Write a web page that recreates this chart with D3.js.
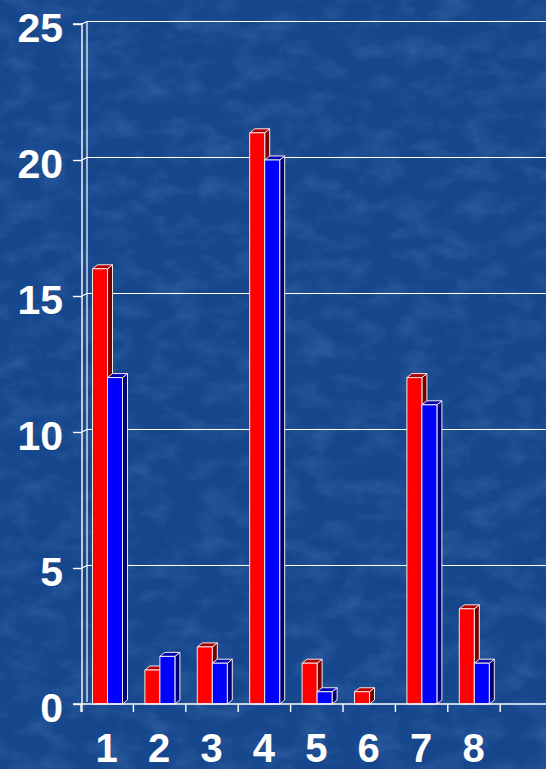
<!DOCTYPE html>
<html>
<head>
<meta charset="utf-8">
<script src="https://cdn.jsdelivr.net/npm/d3@7"></script>
<style>
  html, body { margin: 0; padding: 0; background: #184a90; }
  svg { display: block; }
</style>
</head>
<body>
<svg id="chart" width="546" height="769"></svg>
<script>
// ---- data ----
const categories = ["1", "2", "3", "4", "5", "6", "7", "8"];
const seriesNames = ["red", "blue"];
const redValues  = [16, 1.25, 2.1, 21, 1.5, 0.45, 12, 3.5];
const blueValues = [12, 1.75, 1.5, 20, 0.45, 0, 11, 1.5];
const yTicks = [0, 5, 10, 15, 20, 25];

// ---- layout ----
const W = 546, H = 769;
const svg = d3.select("#chart");
const depthX = 5, depthY = -4;

// background with texture
const defs = svg.append("defs");
const f = defs.append("filter").attr("id", "tex").attr("x", 0).attr("y", 0).attr("width", "100%").attr("height", "100%");
f.append("feTurbulence").attr("type", "fractalNoise").attr("baseFrequency", "0.03 0.05").attr("numOctaves", 4).attr("seed", 7).attr("result", "n");
f.append("feColorMatrix").attr("in", "n").attr("type", "matrix")
  .attr("values", "0 0 0 0 0.20  0 0 0 0 0.42  0 0 0 0 0.75  0 0 0 1.2 -0.5");
svg.append("rect").attr("width", W).attr("height", H).attr("fill", "#16468c");
svg.append("rect").attr("width", W).attr("height", H).attr("filter", "url(#tex)").attr("opacity", 0.35);

const x = d3.scaleBand().domain(categories).range([81, 500.2]).paddingInner(0).paddingOuter(0);
const bw = x.bandwidth();
const xs = d3.scaleBand().domain(seriesNames).range([11.5, 41.5]).padding(0);
const y = d3.scaleLinear().domain([0, 25]).range([704, 24]);

const white = "#ffffff";
const axisX = 82, wallX = axisX + depthX;

// back wall gridlines
const g = svg.append("g").attr("stroke", white).attr("stroke-width", 1.2).attr("fill", "none");
yTicks.filter(t => t > 0).forEach(t => {
  const yy = y(t);
  g.append("line").attr("x1", wallX).attr("x2", W).attr("y1", yy + depthY + 1.5).attr("y2", yy + depthY + 1.5);
  g.append("line").attr("x1", axisX).attr("x2", wallX).attr("y1", yy).attr("y2", yy + depthY + 1.5);
});
// wall vertical line
g.append("line").attr("x1", wallX).attr("x2", wallX).attr("y1", y(25) + depthY + 1.5).attr("y2", y(0) - 2);

// left axis with ticks
const yAxis = d3.axisLeft(y).tickValues(yTicks).tickSize(9).tickPadding(10).tickFormat(d3.format("d"));
const ya = svg.append("g").attr("transform", `translate(${axisX},0)`).call(yAxis);
ya.select(".domain").attr("stroke", white).attr("stroke-width", 1.4).attr("d", `M-9,${y(25)}H0V${y(0)+8}`);
ya.selectAll(".tick line").attr("stroke", white).attr("stroke-width", 1.4);
ya.selectAll(".tick text")
  .attr("fill", white).attr("font-family", "Liberation Sans, Arial, sans-serif")
  .attr("font-weight", "bold").attr("font-size", 41).attr("dy", "0.42em").attr("x", -19);

// bars (3D)
const series = [
  { name: "red", values: redValues, front: "#ff0000", side: "#7a0000", top: "#b00000" },
  { name: "blue", values: blueValues, front: "#0000ff", side: "#00007a", top: "#0000b0" }
];
const bars = svg.append("g");
categories.forEach((c, i) => {
  series.forEach(s => {
    const v = s.values[i];
    if (!(v > 0)) return;
    const x0 = x(c) + xs(s.name), x1 = x0 + xs.bandwidth();
    const y0 = y(v), yb = y(0);
    const gg = bars.append("g").attr("stroke", "#f4e8e8").attr("stroke-width", 1).attr("stroke-linejoin", "round");
    gg.append("path").attr("fill", s.side)
      .attr("d", `M${x1},${yb}L${x1 + depthX},${yb + depthY}L${x1 + depthX},${y0 + depthY}L${x1},${y0}Z`);
    gg.append("path").attr("fill", s.top)
      .attr("d", `M${x0},${y0}L${x0 + depthX},${y0 + depthY}L${x1 + depthX},${y0 + depthY}L${x1},${y0}Z`);
    gg.append("rect").attr("x", x0).attr("y", y0).attr("width", x1 - x0).attr("height", yb - y0).attr("fill", s.front);
  });
});

// bottom axis
const xAxis = d3.axisBottom(x).tickSize(0).tickPadding(0);
const xa = svg.append("g").attr("transform", `translate(0,${y(0)})`).call(xAxis);
xa.select(".domain").remove();
xa.append("line").attr("x1", 73).attr("x2", W).attr("y1", 0).attr("y2", 0).attr("stroke", white).attr("stroke-width", 1.6);
const bounds = categories.map(c => x(c)).concat([x(categories[categories.length - 1]) + bw]);
bounds.forEach(bx => {
  xa.append("line").attr("x1", bx).attr("x2", bx).attr("y1", 0).attr("y2", 8).attr("stroke", white).attr("stroke-width", 1.4);
});
xa.selectAll(".tick text")
  .attr("fill", white).attr("font-family", "Liberation Sans, Arial, sans-serif")
  .attr("font-weight", "bold").attr("font-size", 40)
  .attr("x", -0.5).attr("y", 58).attr("dy", 0);
</script>
</body>
</html>
